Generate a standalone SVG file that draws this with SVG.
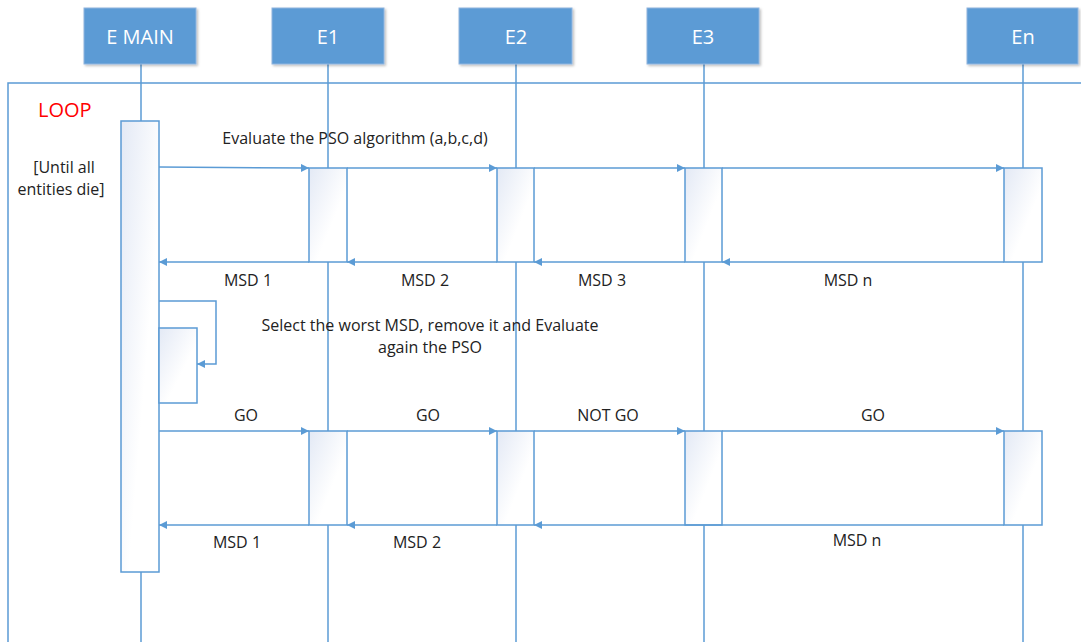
<svg xmlns="http://www.w3.org/2000/svg" width="1081" height="642" viewBox="0 0 1081 642">
<style>
.hdr{fill:#5B9BD5;stroke:#8FB4DE;stroke-width:1}
.hdrt{font-family:"Open Sans","Liberation Sans",sans-serif;font-size:20px;fill:#fff;text-anchor:middle}
.life{stroke:#5B9BD5;stroke-width:1.5;fill:none}
.act{fill:url(#g);stroke:#5B9BD5;stroke-width:1.5}
.msg{stroke:#5B9BD5;stroke-width:1.5;fill:none;marker-end:url(#ah)}
.lbl{font-family:"Open Sans","Liberation Sans",sans-serif;font-size:16px;fill:#222;text-anchor:middle}
</style>
<defs>
<linearGradient id="g" x1="0" y1="0" x2="1" y2="1">
<stop offset="0" stop-color="#E3E9F5"/>
<stop offset="0.6" stop-color="#FFFFFF"/>
</linearGradient>
<marker id="ah" viewBox="0 0 10 10" refX="10" refY="5" markerWidth="8" markerHeight="8" markerUnits="userSpaceOnUse" orient="auto">
<path d="M0,0 L10,5 L0,10 z" fill="#5B9BD5"/>
</marker>
<filter id="sh" x="-10%" y="-10%" width="130%" height="130%">
<feDropShadow dx="1.5" dy="1.5" stdDeviation="1.2" flood-color="#000" flood-opacity="0.25"/>
</filter>
</defs>
<rect width="1081" height="642" fill="#fff"/>

<g id="frame">
<path d="M8,642 L8,83 L1081,83" class="life"/>
<text x="38" y="117" font-family="'Open Sans','Liberation Sans',sans-serif" font-size="20" fill="#FF0000">LOOP</text>
<text class="lbl" x="64" y="173">[Until all</text>
<text class="lbl" x="61" y="195">entities die]</text>
</g>

<g id="lifelines">
<line class="life" x1="141" y1="64" x2="141" y2="642"/>
<line class="life" x1="328" y1="64" x2="328" y2="642"/>
<line class="life" x1="516" y1="64" x2="516" y2="642"/>
<line class="life" x1="704" y1="64" x2="704" y2="642"/>
<line class="life" x1="1023" y1="64" x2="1023" y2="642"/>
</g>

<g id="n-emain"><rect class="hdr" filter="url(#sh)" x="84" y="8" width="112" height="56"/><text class="hdrt" x="140" y="44">E MAIN</text></g>
<g id="n-e1"><rect class="hdr" filter="url(#sh)" x="272" y="8" width="112" height="56"/><text class="hdrt" x="328" y="44">E1</text></g>
<g id="n-e2"><rect class="hdr" filter="url(#sh)" x="459" y="8" width="113" height="56"/><text class="hdrt" x="516" y="44">E2</text></g>
<g id="n-e3"><rect class="hdr" filter="url(#sh)" x="647" y="8" width="112" height="56"/><text class="hdrt" x="703" y="44">E3</text></g>
<g id="n-en"><rect class="hdr" filter="url(#sh)" x="967" y="8" width="111" height="56"/><text class="hdrt" x="1023" y="44">En</text></g>

<g id="activations">
<rect id="a-main" class="act" x="121" y="121" width="38" height="451"/>
<rect id="a-self" class="act" x="159" y="328" width="38" height="75"/>
<rect id="a-e1-1" class="act" x="309" y="168" width="38" height="94"/>
<rect id="a-e2-1" class="act" x="497" y="168" width="37" height="94"/>
<rect id="a-e3-1" class="act" x="685" y="168" width="37" height="94"/>
<rect id="a-en-1" class="act" x="1004" y="168" width="38" height="94"/>
<rect id="a-e1-2" class="act" x="309" y="431" width="38" height="94"/>
<rect id="a-e2-2" class="act" x="497" y="431" width="37" height="94"/>
<rect id="a-e3-2" class="act" x="685" y="431" width="37" height="94"/>
<rect id="a-en-2" class="act" x="1004" y="431" width="38" height="94"/>
</g>

<g id="connectors">
<path class="msg" d="M159,167 L309,168"/>
<path class="msg" d="M347,168 L497,168"/>
<path class="msg" d="M534,168 L685,168"/>
<path class="msg" d="M722,168 L1004,168"/>
<path class="msg" d="M1004,262 L722,262"/>
<path class="msg" d="M685,262 L534,262"/>
<path class="msg" d="M497,262 L347,262"/>
<path class="msg" d="M309,262 L159,262"/>
<path class="msg" d="M159,301 L216,301 L216,364 L197,364"/>
<path class="msg" d="M159,431 L309,431"/>
<path class="msg" d="M347,431 L497,431"/>
<path class="msg" d="M534,431 L685,431"/>
<path class="msg" d="M722,431 L1004,431"/>
<path class="msg" d="M1004,525 L534,525"/>
<path class="msg" d="M497,525 L347,525"/>
<path class="msg" d="M309,525 L159,525"/>
</g>

<g id="labels">
<text class="lbl" x="355" y="144">Evaluate the PSO algorithm (a,b,c,d)</text>
<text class="lbl" x="248" y="286">MSD 1</text>
<text class="lbl" x="425" y="286">MSD 2</text>
<text class="lbl" x="602" y="286">MSD 3</text>
<text class="lbl" x="848" y="286">MSD n</text>
<text class="lbl" x="430" y="331">Select the worst MSD, remove it and Evaluate</text>
<text class="lbl" x="430" y="353">again the PSO</text>
<text class="lbl" x="246" y="421">GO</text>
<text class="lbl" x="428" y="421">GO</text>
<text class="lbl" x="608" y="421">NOT GO</text>
<text class="lbl" x="873" y="421">GO</text>
<text class="lbl" x="237" y="548">MSD 1</text>
<text class="lbl" x="417" y="548">MSD 2</text>
<text class="lbl" x="857" y="546">MSD n</text>
</g>
</svg>
